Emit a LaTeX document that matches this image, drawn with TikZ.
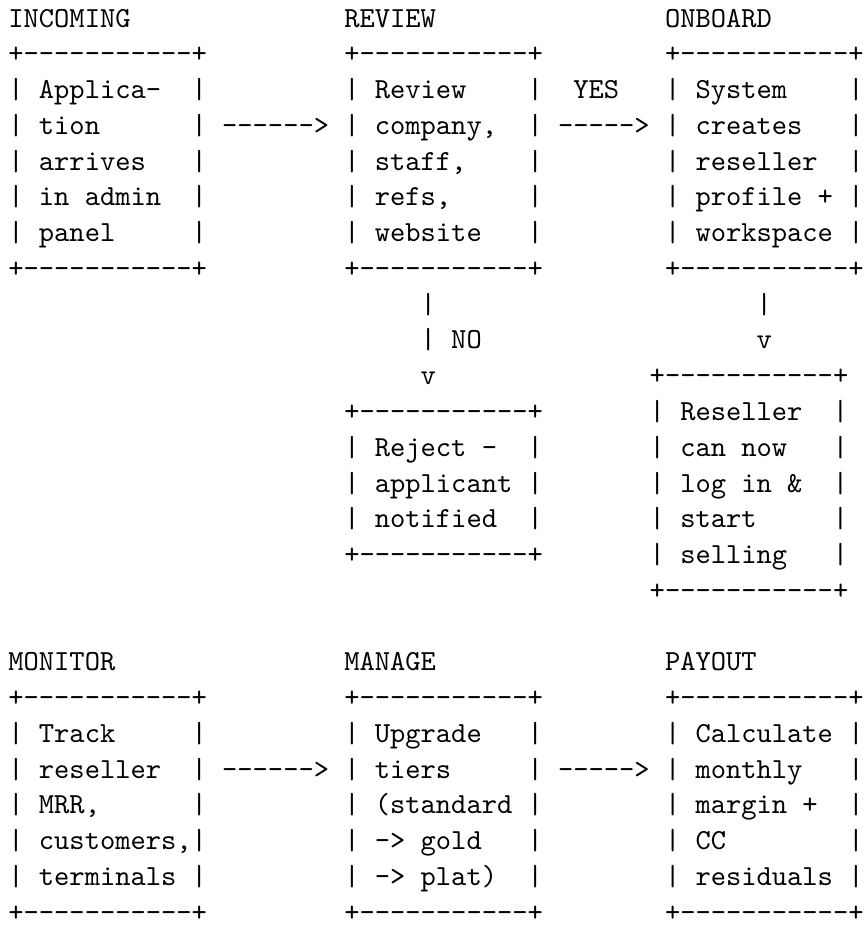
\documentclass[tikz,border=0pt]{standalone}
\usepackage{fontspec}
\setmonofont{lmmono10-regular.otf}
\tikzset{
  txt/.style={anchor=base west, inner sep=0pt, outer sep=0pt,
    font=\ttfamily\fontsize{29.09pt}{35.77pt}\selectfont, text=black}
}
% place text at (row, column) of the character grid
\newcommand{\gridtext}[4]{\node[txt] (#1) at ({8.4pt+#3*15.27pt},{-27pt-#2*35.77pt}) {#4};}
\newcommand{\boxedge}{+-----------+}
\begin{document}
\begin{tikzpicture}
\useasboundingbox[fill=white] (0,0) rectangle (865pt,-930pt);
% ---- top row of stages ----
\gridtext{tIncoming}{0}{0}{INCOMING}
\gridtext{tReview}{0}{22}{REVIEW}
\gridtext{tOnboard}{0}{43}{ONBOARD}
\gridtext{aTop}{1}{0}{\boxedge}
\gridtext{bTop}{1}{22}{\boxedge}
\gridtext{cTop}{1}{43}{\boxedge}
% row 2
\gridtext{a2}{2}{0}{| Applica-}\gridtext{a2r}{2}{12}{|}
\gridtext{b2}{2}{22}{| Review}\gridtext{b2r}{2}{34}{|}
\gridtext{yes}{2}{37}{YES}
\gridtext{c2}{2}{43}{| System}\gridtext{c2r}{2}{55}{|}
% row 3
\gridtext{a3}{3}{0}{| tion}\gridtext{a3r}{3}{12}{|}
\gridtext{arrAB}{3}{14}{------>}
\gridtext{b3}{3}{22}{| company,}\gridtext{b3r}{3}{34}{|}
\gridtext{arrBC}{3}{36}{----->}
\gridtext{c3}{3}{43}{| creates}\gridtext{c3r}{3}{55}{|}
% row 4
\gridtext{a4}{4}{0}{| arrives}\gridtext{a4r}{4}{12}{|}
\gridtext{b4}{4}{22}{| staff,}\gridtext{b4r}{4}{34}{|}
\gridtext{c4}{4}{43}{| reseller}\gridtext{c4r}{4}{55}{|}
% row 5
\gridtext{a5}{5}{0}{| in admin}\gridtext{a5r}{5}{12}{|}
\gridtext{b5}{5}{22}{| refs,}\gridtext{b5r}{5}{34}{|}
\gridtext{c5}{5}{43}{| profile +}\gridtext{c5r}{5}{55}{|}
% row 6
\gridtext{a6}{6}{0}{| panel}\gridtext{a6r}{6}{12}{|}
\gridtext{b6}{6}{22}{| website}\gridtext{b6r}{6}{34}{|}
\gridtext{c6}{6}{43}{| workspace |}
% row 7
\gridtext{aBot}{7}{0}{\boxedge}
\gridtext{bBot}{7}{22}{\boxedge}
\gridtext{cBot}{7}{43}{\boxedge}
% vertical connectors
\gridtext{vB1}{8}{27}{|}
\gridtext{vC1}{8}{49}{|}
\gridtext{vB2}{9}{27}{| NO}
\gridtext{vC2}{9}{49}{v}
\gridtext{vB3}{10}{27}{v}
\gridtext{dTop}{10}{42}{\boxedge}
% reject box and reseller box
\gridtext{eTop}{11}{22}{\boxedge}
\gridtext{d11}{11}{42}{| Reseller}\gridtext{d11r}{11}{54}{|}
\gridtext{e12}{12}{22}{| Reject -}\gridtext{e12r}{12}{34}{|}
\gridtext{d12}{12}{42}{| can now}\gridtext{d12r}{12}{54}{|}
\gridtext{e13}{13}{22}{| applicant |}
\gridtext{d13}{13}{42}{| log in \&}\gridtext{d13r}{13}{54}{|}
\gridtext{e14}{14}{22}{| notified}\gridtext{e14r}{14}{34}{|}
\gridtext{d14}{14}{42}{| start}\gridtext{d14r}{14}{54}{|}
\gridtext{eBot}{15}{22}{\boxedge}
\gridtext{d15}{15}{42}{| selling}\gridtext{d15r}{15}{54}{|}
\gridtext{dBot}{16}{42}{\boxedge}
% ---- bottom row of stages ----
\gridtext{tMonitor}{18}{0}{MONITOR}
\gridtext{tManage}{18}{22}{MANAGE}
\gridtext{tPayout}{18}{43}{PAYOUT}
\gridtext{fTop}{19}{0}{\boxedge}
\gridtext{gTop}{19}{22}{\boxedge}
\gridtext{hTop}{19}{43}{\boxedge}
% row 20
\gridtext{f20}{20}{0}{| Track}\gridtext{f20r}{20}{12}{|}
\gridtext{g20}{20}{22}{| Upgrade}\gridtext{g20r}{20}{34}{|}
\gridtext{h20}{20}{43}{| Calculate |}
% row 21
\gridtext{f21}{21}{0}{| reseller}\gridtext{f21r}{21}{12}{|}
\gridtext{arrFG}{21}{14}{------>}
\gridtext{g21}{21}{22}{| tiers}\gridtext{g21r}{21}{34}{|}
\gridtext{arrGH}{21}{36}{----->}
\gridtext{h21}{21}{43}{| monthly}\gridtext{h21r}{21}{55}{|}
% row 22
\gridtext{f22}{22}{0}{| MRR,}\gridtext{f22r}{22}{12}{|}
\gridtext{g22}{22}{22}{| (standard |}
\gridtext{h22}{22}{43}{| margin +}\gridtext{h22r}{22}{55}{|}
% row 23
\gridtext{f23}{23}{0}{| customers,|}
\gridtext{g23}{23}{22}{| -> gold}\gridtext{g23r}{23}{34}{|}
\gridtext{h23}{23}{43}{| CC}\gridtext{h23r}{23}{55}{|}
% row 24
\gridtext{f24}{24}{0}{| terminals |}
\gridtext{g24}{24}{22}{| -> plat)}\gridtext{g24r}{24}{34}{|}
\gridtext{h24}{24}{43}{| residuals |}
% row 25
\gridtext{fBot}{25}{0}{\boxedge}
\gridtext{gBot}{25}{22}{\boxedge}
\gridtext{hBot}{25}{43}{\boxedge}
\end{tikzpicture}
\end{document}
